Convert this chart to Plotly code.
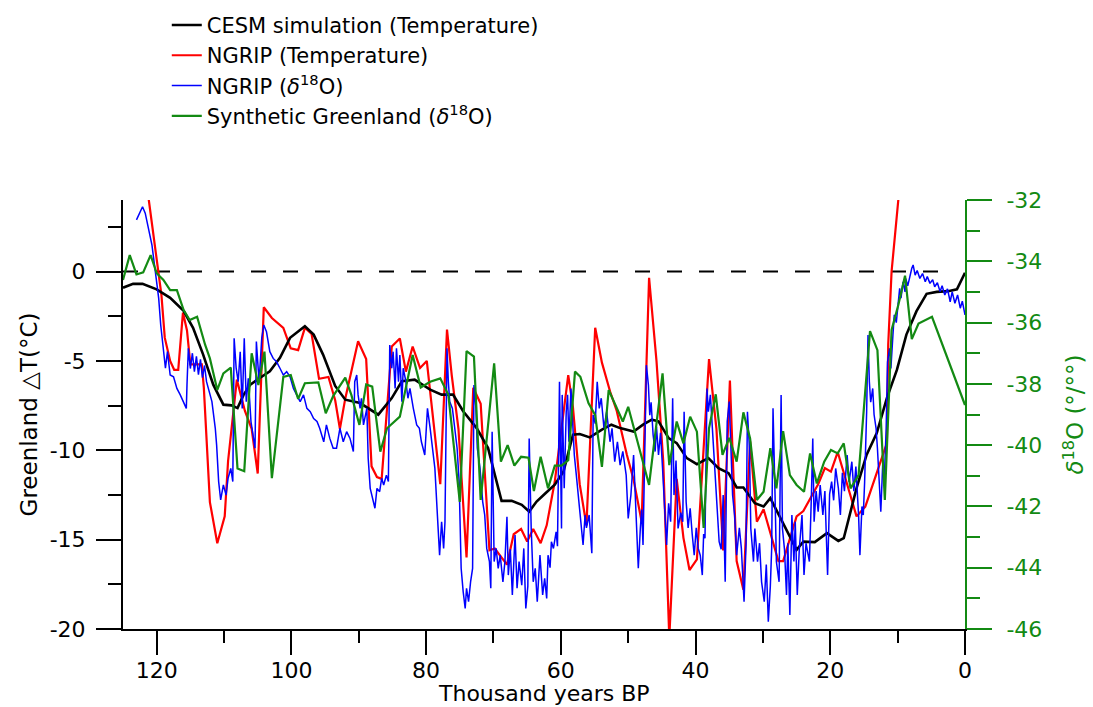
import plotly.graph_objects as go

# ---------------- data ----------------
cesm_age = [125, 123.5, 122.1, 120.0, 118.0, 116.0, 114.6, 113.1, 111.6, 110.1, 108.9, 108.0, 107.1,
            106.1, 104.7, 103.2, 101.7, 100.2, 98.0, 96.7, 95.3, 93.5, 92.0, 89.8, 87.1, 85.1, 83.6,
            81.7, 79.4, 77.7, 76.0, 74.5, 72.5, 70.8, 69.8, 68.8, 67.3, 65.8, 64.7, 63.6, 62.4, 60.9,
            59.6, 58.2, 57.2, 55.7, 53.9, 52.5, 51.2, 49.2, 47.8, 46.5, 45.5, 44.0, 42.8, 41.3, 39.8,
            38.1, 36.6, 35.1, 33.9, 32.9, 31.2, 29.9, 28.9, 27.0, 25.0, 24.0, 22.3, 20.5, 18.8, 18.0,
            16.1, 14.6, 13.1, 11.6, 10.1, 8.7, 7.2, 5.7, 4.2, 2.5, 1.2, 0]
cesm_dT = [-0.91, -0.69, -0.69, -1.0, -1.47, -2.2, -3.15, -4.65, -6.33, -7.45, -7.49, -7.64, -6.9,
           -6.33, -5.96, -5.58, -4.83, -3.71, -3.06, -3.53, -4.65, -6.4, -7.17, -7.36, -8.01, -7.08,
           -6.14, -6.05, -6.61, -6.89, -6.89, -7.82, -8.76, -9.88, -11.37, -12.83, -12.83, -13.05,
           -13.43, -12.87, -12.45, -11.93, -11.19, -9.13, -9.09, -9.28, -8.85, -8.57, -8.76, -8.95,
           -8.57, -8.29, -8.38, -9.32, -9.6, -10.44, -10.78, -10.44, -11.0, -11.28, -12.08, -12.08,
           -12.96, -13.15, -12.68, -14.08, -15.57, -15.11, -15.14, -14.64, -15.07, -14.92, -12.12,
           -10.25, -9.04, -7.08, -5.49, -3.53, -2.22, -1.25, -1.14, -1.1, -1.0, -0.07]

ngrip_T_age = [121.7, 119.3, 118.8, 118.0, 117.4, 116.8, 116.1, 115.5, 115.0, 113.3, 113.0, 112.1,
               111.0, 109.9, 109.4, 108.1, 106.9, 105.9, 105.0, 104.1, 102.9, 101.2, 100.1, 99.0,
               98.0, 97.0, 95.9, 94.5, 93.5, 92.8, 92.0, 90.1, 88.9, 88.1, 87.3, 86.6, 85.1, 83.9,
               83.0, 82.0, 80.9, 79.9, 77.9, 76.9, 76.2, 75.2, 74.0, 73.0, 71.9, 71.0, 70.6, 69.8,
               68.0, 67.0, 65.9, 65.0, 64.1, 63.0, 62.1, 60.9, 58.9, 58.2, 57.2, 56.2, 54.9, 53.9,
               52.7, 51.7, 50.2, 49.2, 48.0, 46.9, 45.8, 44.8, 43.9, 42.8, 41.8, 40.9, 39.8, 38.0,
               36.9, 35.9, 34.9, 33.9, 32.9, 31.9, 30.9, 29.9, 27.7, 27.0, 26.0, 25.0, 24.0, 21.8,
               20.8, 19.9, 18.9, 16.1, 14.8, 11.6, 11.4, 10.9, 9.9, 9.4]
ngrip_T = [5.5, -1.3, -3.7, -5.0, -5.5, -5.5, -2.3, -3.3, -5.2, -5.2, -6.5, -12.9,
           -15.2, -13.7, -10.6, -6.05, -7.8, -8.8, -11.3, -2.0, -2.6, -3.15, -4.3, -4.4,
           -3.15, -3.5, -6.0, -5.9, -7.2, -8.8, -7.1, -3.9, -4.9, -10.9, -11.5, -11.6, -4.2, -3.75,
           -5.6, -4.2, -5.4, -5.0, -11.9, -3.25, -5.8, -8.8, -16.0, -6.5, -7.4, -13.6, -15.6, -15.5,
           -16.4, -14.7, -14.4, -15.1, -14.4, -15.2, -14.2, -11.75, -5.8, -7.6, -11.9, -14.2, -3.15,
           -5.1, -6.7, -7.8, -10.25, -11.65, -14.0, -0.35, -5.0, -10.6, -20.5, -11.6, -14.9, -16.7,
           -16.1, -4.9, -8.8, -15.6, -6.1, -16.2, -17.8, -9.5, -14.0, -13.3, -16.2, -16.2, -15.0,
           -13.7, -13.4, -11.9, -11.0, -11.2, -10.1, -13.7, -13.15, -9.6, -4.1, 0.0, 4.0, 6.0]

ngrip_d18O_age = [
    123.0, 122.5, 122.1, 121.7, 121.2, 120.7, 120.2, 119.7, 119.4, 119.1, 118.7, 118.4, 118.0, 117.5,
    117.0, 116.5, 116.0, 115.6, 115.5, 115.3, 115.0, 114.7, 114.4, 114.1, 113.8, 113.5, 113.2, 112.9,
    112.6, 111.8, 111.3, 111.1, 110.8, 110.5, 110.1, 109.7, 109.4, 109.0, 108.7, 108.5, 108.2, 107.9,
    107.6, 107.3, 107.0, 106.7, 106.4, 106.0, 105.7, 105.4, 105.2, 104.8, 104.4, 104.1, 103.7, 103.2,
    102.7, 102.2, 101.7, 101.2, 100.7, 100.2, 99.7, 99.2, 98.7, 98.2, 97.7, 97.2, 96.7, 96.2, 95.8,
    95.2, 94.8, 94.3, 93.8, 93.3, 92.8, 92.3, 91.8, 91.3, 90.8, 90.6, 90.3, 90.1, 89.8, 89.6, 89.3,
    88.8, 88.6, 88.3, 87.9, 87.6, 87.3, 86.9, 86.6, 86.3, 85.9, 85.6, 85.4, 85.1, 84.9, 84.6, 84.4,
    84.1, 83.9, 83.6, 83.4, 83.0, 82.7, 82.4, 81.9, 81.4, 81.0, 80.7, 80.2, 79.8, 79.4, 79.0, 78.7,
    78.3, 78.0, 77.7, 77.4, 77.2, 76.9, 76.7, 76.5, 76.1, 75.7, 75.4, 75.1, 74.8, 74.5, 74.2, 74.0,
    73.7, 73.4, 73.1, 72.9, 72.6, 72.4, 72.0, 71.6, 71.3, 71.0, 70.6, 70.4, 70.2, 69.9, 69.6, 69.3,
    69.0, 68.6, 68.3, 68.0, 67.8, 67.5, 67.2, 66.8, 66.5, 66.2, 65.8, 65.5, 65.2, 64.9, 64.7, 64.4,
    64.1, 63.8, 63.5, 63.1, 62.7, 62.4, 62.1, 61.9, 61.6, 61.4, 61.1, 60.7, 60.5, 60.2, 59.9, 59.8,
    59.5, 59.2, 59.0, 58.8, 58.5, 58.2, 58.0, 57.7, 57.3, 56.9, 56.7, 56.4, 56.2, 55.8, 55.6, 55.4,
    55.2, 54.9, 54.6, 54.3, 54.0, 53.6, 53.2, 52.7, 52.4, 52.0, 51.6, 51.2, 50.8, 50.3, 50.0, 49.6,
    49.2, 48.8, 48.5, 48.2, 48.0, 47.8, 47.5, 47.3, 47.0, 46.8, 46.6, 46.3, 46.0, 45.8, 45.5, 45.2,
    44.9, 44.6, 44.3, 44.0, 43.7, 43.4, 43.2, 42.9, 42.6, 42.2, 41.9, 41.7, 41.4, 41.1, 40.8, 40.5,
    40.2, 39.9, 39.6, 39.3, 39.0, 38.8, 38.6, 38.3, 38.1, 37.8, 37.5, 37.2, 36.9, 36.5, 36.2, 35.9,
    35.6, 35.3, 35.0, 34.8, 34.5, 34.2, 33.9, 33.5, 33.2, 32.8, 32.5, 32.3, 32.0, 31.8, 31.4, 31.2,
    30.8, 30.5, 30.2, 29.8, 29.5, 29.2, 28.9, 28.7, 28.5, 28.2, 28.0, 27.6, 27.3, 27.1, 26.8, 26.5,
    26.3, 26.0, 25.7, 25.4, 25.2, 24.9, 24.6, 24.2, 23.9, 23.6, 23.1, 22.8, 22.6, 22.4, 22.1, 21.8,
    21.5, 21.1, 20.8, 20.4, 20.1, 19.8, 19.5, 19.2, 18.8, 18.5, 18.2, 17.9, 17.5, 17.2, 16.8, 16.5,
    16.2, 15.8, 15.6, 15.3, 15.1, 14.9, 14.6, 14.4, 14.2, 14.0, 13.7, 13.5, 13.2, 13.0, 12.7, 12.5,
    12.2, 12.0, 11.7, 11.5, 11.2, 11.0, 10.7, 10.5, 10.2, 10.0, 9.7, 9.5, 9.2, 8.9, 8.8, 8.5, 8.2,
    7.9, 7.7, 7.4, 7.1, 6.7, 6.3, 5.9, 5.6, 5.2, 4.8, 4.5, 4.1, 3.7, 3.4, 3.0, 2.6, 2.2, 1.9, 1.5,
    1.1, 0.7, 0.4, 0.0]
ngrip_d18O = [
    -32.65, -32.38, -32.22, -32.43, -32.92, -33.47, -34.34, -35.21, -36.08, -36.62, -37.49, -36.95,
    -37.71, -37.77, -38.15, -38.36, -38.63, -38.8, -38.04, -36.84, -37.5, -37.0, -37.6, -37.1, -37.7,
    -37.2, -37.8, -37.4, -37.93, -38.58, -39.45, -40.0, -41.19, -41.79, -41.3, -41.63, -41.08, -40.76,
    -41.19, -36.51, -37.49, -37.93, -36.95, -38.8, -36.51, -38.58, -37.82, -39.23, -39.67, -40.1,
    -36.62, -37.93, -36.51, -36.08, -36.3, -36.95, -37.17, -37.28, -37.49, -37.71, -37.6, -37.77,
    -38.15, -38.36, -38.58, -38.36, -38.8, -38.91, -39.13, -39.23, -39.45, -39.89, -39.34, -39.78,
    -40.1, -40.1, -39.45, -39.89, -39.56, -39.78, -40.21, -37.93, -37.71, -38.36, -38.8, -38.47,
    -39.34, -38.8, -40.43, -41.41, -41.85, -42.06, -41.41, -41.52, -41.08, -41.3, -40.98, -41.19,
    -36.73, -37.49, -36.95, -38.15, -36.84, -37.93, -37.06, -38.58, -37.49, -37.93, -38.47, -38.15,
    -38.8, -39.34, -39.45, -39.89, -40.32, -38.8, -39.45, -40.1, -40.76, -42.39, -43.59, -42.5,
    -43.37, -42.5, -36.84, -37.93, -38.58, -38.8, -39.45, -40.1, -41.19, -44.02, -44.78, -45.33,
    -44.67, -45.11, -44.46, -44.02, -38.04, -38.8, -40.1, -40.76, -41.85, -42.28, -43.37, -43.8,
    -44.67, -39.56, -43.8, -43.37, -44.02, -43.59, -44.46, -43.8, -42.34, -44.24, -43.4, -44.89,
    -42.93, -44.67, -43.8, -44.57, -43.37, -45.33, -44.6, -39.78, -42.72, -44.46, -44.02, -45.11,
    -43.59, -44.89, -44.35, -45.0, -43.59, -44.0, -43.15, -43.37, -42.83, -43.3, -37.93, -42.72,
    -38.36, -41.41, -38.91, -38.36, -39.89, -38.15, -39.45, -40.32, -40.98, -41.85, -42.72, -43.26,
    -42.28, -42.7, -42.28, -43.0, -43.53, -39.02, -39.3, -37.93, -38.8, -38.47, -39.45, -38.91,
    -39.89, -39.45, -40.54, -39.89, -40.65, -40.2, -40.98, -42.39, -41.63, -40.32, -42.28, -44.02,
    -42.72, -42.1, -43.26, -40.32, -37.39, -38.04, -39.02, -38.6, -39.67, -40.21, -39.4, -40.32,
    -39.6, -40.76, -42.17, -43.26, -41.9, -42.5, -38.47, -41.63, -40.5, -42.72, -42.2, -42.5, -38.91,
    -41.85, -42.7, -42.06, -42.9, -43.59, -42.7, -43.37, -43.6, -44.24, -42.9, -43.04, -38.15,
    -38.91, -38.36, -39.45, -40.5, -41.85, -43.15, -43.4, -41.63, -44.46, -39.23, -38.58, -39.9,
    -41.63, -42.3, -43.59, -42.7, -43.37, -45.11, -43.2, -38.91, -40.1, -42.72, -43.8, -42.72,
    -43.8, -43.2, -44.46, -45.11, -43.9, -45.76, -44.6, -43.37, -38.8, -41.63, -43.8, -44.46,
    -38.36, -42.72, -43.4, -44.89, -43.2, -45.54, -42.28, -43.8, -42.5, -44.89, -43.4, -42.28,
    -44.24, -43.2, -43.8, -41.63, -39.78, -42.5, -41.5, -42.17, -41.3, -42.28, -41.5, -44.24, -41.6,
    -41.19, -41.8, -40.76, -41.4, -42.28, -40.9, -41.5, -40.32, -41.2, -40.54, -41.5, -40.7, -42.28,
    -43.59, -42.0, -42.28, -41.2, -38.91, -36.41, -37.93, -38.6, -38.15, -39.0, -39.45, -40.1,
    -41.19, -42.17, -40.54, -41.2, -39.45, -37.28, -36.84, -37.5, -36.41, -35.75, -36.0, -35.43,
    -34.88, -35.2, -34.67, -35.0, -34.56, -34.8, -34.45, -34.23, -34.12, -34.45, -34.3, -34.56,
    -34.4, -34.67, -34.5, -34.72, -34.6, -34.83, -34.7, -34.99, -34.8, -35.1, -34.9, -35.32, -35.0,
    -35.37, -35.1, -35.53, -35.3, -35.75]

synth_age = [125, 124.0, 123.0, 122.0, 120.9, 120.0, 119.0, 118.0, 117.0, 116.0, 115.1, 114.0, 112.8,
             112.1, 111.0, 110.1, 109.0, 108.0, 107.0, 105.9, 104.9, 104.0, 102.9, 101.2, 100.1, 99.0,
             98.0, 96.0, 94.9, 93.8, 92.0, 91.1, 89.9, 88.9, 88.0, 86.8, 85.8, 83.9, 82.0, 80.8,
             79.4, 77.9, 76.7, 75.0, 74.0, 72.9, 71.9, 69.9, 68.9, 67.9, 66.9, 65.9, 64.8, 64.0,
             63.0, 61.9, 60.9, 59.9, 58.9, 57.9, 57.1, 55.9, 54.9, 53.9, 52.9, 51.8, 50.8, 50.0,
             46.9, 44.9, 43.9, 42.8, 41.8, 40.8, 39.8, 38.8, 38.0, 37.0, 36.0, 35.0, 33.9, 32.9,
             31.9, 30.9, 29.9, 28.9, 28.0, 27.0, 26.0, 25.0, 23.9, 23.0, 22.0, 20.9, 19.9, 18.9,
             18.0, 17.0, 15.8, 14.1, 13.0, 11.9, 10.9, 9.9, 8.9, 7.9, 6.9, 4.9, 0]
synth_d18O = [-34.61, -33.8, -34.43, -34.36, -33.8, -34.39, -34.61, -34.94, -34.94, -35.59, -35.92,
              -35.81, -36.73, -37.17, -38.2, -37.66, -37.47, -40.76, -40.85, -37.0, -38.04, -36.95,
              -41.08, -37.77, -37.71, -38.49, -37.98, -37.95, -38.96, -38.4, -37.8, -38.36, -39.34,
              -38.02, -38.09, -40.21, -39.45, -39.07, -37.06, -38.12, -37.93, -37.82, -38.36,
              -41.85, -36.93, -37.11, -41.79, -37.33, -40.54, -40.0, -40.67, -40.38, -40.41, -41.5,
              -40.38, -41.41, -40.67, -40.67, -40.49, -37.6, -37.77, -38.63, -39.02, -40.71, -38.2,
              -38.75, -39.23, -38.75, -41.3, -37.66, -40.65, -39.23, -39.94, -39.07, -39.56, -42.7,
              -39.45, -38.34, -40.32, -39.76, -40.54, -38.93, -39.78, -41.79, -41.52, -40.1,
              -41.41, -39.54, -40.98, -41.3, -41.52, -40.27, -41.25, -40.54, -40.16, -40.27,
              -39.94, -41.41, -40.98, -36.28, -36.9, -41.79, -36.24, -35.43, -34.47, -36.54,
              -36.03, -35.81, -38.69]

zero_line_span = [125, 2.5]
zero_level = 0

x_ticks = [0, 20, 40, 60, 80, 100, 120]
x_minor_ticks = [10, 30, 50, 70, 90, 110]
y_ticks = [-20, -15, -10, -5, 0]
y_ticktext = ["-20", "-15", "-10", "-5", "0"]
y2_ticks = [-46, -44, -42, -40, -38, -36, -34, -32]
y2_ticktext = ["-46", "-44", "-42", "-40", "-38", "-36", "-34", "-32"]

# ---------------- figure ----------------
FONT = "DejaVu Sans"
GREEN = "#138a13"
W, H = 1093, 707
M = dict(l=123, r=128, t=200, b=78)
plot_h = H - M["t"] - M["b"]

fig = go.Figure()

fig.add_trace(go.Scatter(x=ngrip_d18O_age, y=ngrip_d18O, mode="lines", yaxis="y2",
                         name="NGRIP (<i>δ</i><sup>18</sup>O)", legendrank=3,
                         line=dict(color="#0000ff", width=1.5)))
fig.add_trace(go.Scatter(x=ngrip_T_age, y=ngrip_T, mode="lines",
                         name="NGRIP (Temperature)", legendrank=2,
                         line=dict(color="#ff0000", width=2.2)))
fig.add_trace(go.Scatter(x=synth_age, y=synth_d18O, mode="lines", yaxis="y2",
                         name="Synthetic Greenland (<i>δ</i><sup>18</sup>O)", legendrank=4,
                         line=dict(color=GREEN, width=2.2)))
fig.add_trace(go.Scatter(x=cesm_age, y=cesm_dT, mode="lines",
                         name="CESM simulation (Temperature)", legendrank=1,
                         line=dict(color="#000000", width=2.6)))

fig.add_shape(type="line", xref="x", yref="y",
              x0=zero_line_span[0], x1=zero_line_span[1], y0=zero_level, y1=zero_level,
              line=dict(color="black", width=2, dash="15px,17px"), layer="below")

# x-axis title placed as an annotation at the very bottom (as in the reference)
fig.add_annotation(text="Thousand years BP", xref="paper", x=0.5, yref="paper",
                   y=-M["b"] / plot_h, xanchor="center", yanchor="bottom",
                   showarrow=False, borderpad=0,
                   font=dict(family=FONT, size=22, color="black"))

fig.update_layout(
    width=W, height=H, autosize=False,
    margin=dict(**M, autoexpand=False),
    paper_bgcolor="white", plot_bgcolor="white",
    font=dict(family=FONT, size=21, color="black"),
    showlegend=True,
    legend=dict(x=0.052, y=1.455, xanchor="left", yanchor="top", bgcolor="rgba(0,0,0,0)",
                font=dict(family=FONT, size=21), traceorder="normal", itemwidth=30),
    xaxis=dict(range=[125, 0], tickmode="array", tickvals=x_ticks,
               showline=True, linecolor="black", linewidth=2,
               ticks="outside", ticklen=24, tickwidth=2, tickcolor="black", ticklabelstandoff=-3,
               minor=dict(ticks="outside", ticklen=12, tickwidth=2, tickcolor="black",
                          tickmode="array", tickvals=x_minor_ticks),
               showgrid=False, zeroline=False, automargin=False,
               tickfont=dict(family=FONT, size=22)),
    yaxis=dict(range=[-20, 4], tickmode="array", tickvals=y_ticks, ticktext=y_ticktext,
               showline=True, linecolor="black", linewidth=2,
               ticks="outside", ticklen=25, tickwidth=2, tickcolor="black", ticklabelstandoff=6,
               minor=dict(ticks="outside", ticklen=13, tickwidth=2, tickcolor="black",
                          tick0=0, dtick=2.5),
               showgrid=False, zeroline=False, automargin=False,
               tickfont=dict(family=FONT, size=22),
               title=dict(text="Greenland △T(°C)", font=dict(family=FONT, size=23), standoff=6)),
    yaxis2=dict(range=[-46, -32], tickmode="array", tickvals=y2_ticks, ticktext=y2_ticktext,
                overlaying="y", side="right",
                showline=True, linecolor=GREEN, linewidth=2,
                ticks="outside", ticklen=25, tickwidth=2, tickcolor=GREEN, ticklabelstandoff=10,
                minor=dict(ticks="outside", ticklen=13, tickwidth=2, tickcolor=GREEN,
                           tick0=-46, dtick=1),
                showgrid=False, zeroline=False, automargin=False,
                tickfont=dict(family=FONT, size=22, color=GREEN),
                title=dict(text="<i>δ</i><sup>18</sup>O (°/°°)", font=dict(family=FONT, size=23, color=GREEN),
                           standoff=26)),
)

fig.write_html("out.html", post_script="document.body.style.margin='0';",
               config={"displayModeBar": False})
